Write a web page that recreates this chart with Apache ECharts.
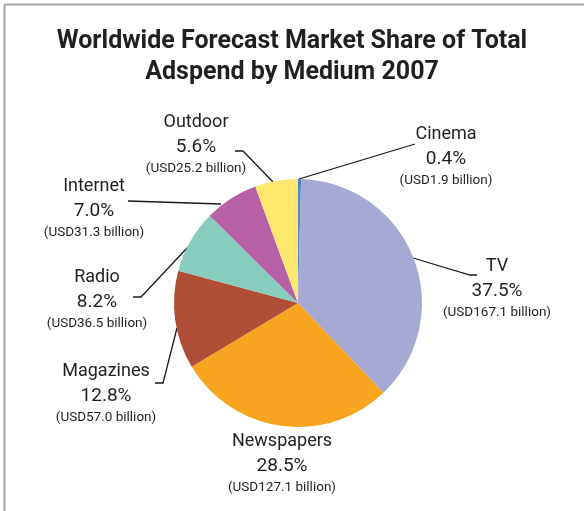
<!DOCTYPE html>
<html>
<head>
<meta charset="utf-8">
<script src="https://cdn.jsdelivr.net/npm/echarts@6/dist/echarts.min.js"></script>
<style>
  html, body { margin: 0; padding: 0; background: #fff; }
  #chart { width: 584px; height: 511px; }
</style>
</head>
<body>
<div id="chart"></div>
<script>
// slices, clockwise from 12 o'clock
const media = ["Cinema", "TV", "Newspapers", "Magazines", "Radio", "Internet", "Outdoor"];
const shares = [0.4, 37.5, 28.5, 12.8, 8.2, 7.0, 5.6];
const usdBillions = ["1.9", "167.1", "127.1", "57.0", "36.5", "31.3", "25.2"];
const colors = ["#4a8ccb", "#a7a9d5", "#f7a51f", "#b04e36", "#86cdbd", "#b760a6", "#fee76e"];

// label anchors (centre x, name line y) and leader lines, in px
const labelSpots = [
  { x: 446, y: 133, line: [[299, 179], [415, 144]] },
  { x: 497, y: 265, line: [[413, 258], [470, 275], [477, 275]] },
  { x: 282, y: 440, line: null },
  { x: 106, y: 370, line: [[177, 328], [163, 383], [155, 383]] },
  { x: 97, y: 276, line: [[188, 247], [141, 297], [133, 297]] },
  { x: 94, y: 185, line: [[221, 204], [128, 201]] },
  { x: 196, y: 121, line: [[273, 182], [243, 151], [235, 151]] }
];

const font = "Roboto, 'Noto Sans', sans-serif";

const chart = echarts.init(document.getElementById("chart"));

chart.setOption({
  animation: false,
  title: {
    text: "Worldwide Forecast Market Share of Total\nAdspend by Medium 2007",
    left: "center",
    top: 21,
    textStyle: {
      fontFamily: font,
      fontSize: 25,
      fontWeight: "bold",
      color: "#231f20",
      lineHeight: 31
    }
  },
  graphic: [
    { type: "line", shape: { x1: 4.5, y1: 4.5, x2: 4.5, y2: 511 }, style: { stroke: "#a3a3a3", lineWidth: 2 } },
    { type: "line", shape: { x1: 4.5, y1: 4.5, x2: 584, y2: 4.5 }, style: { stroke: "#a3a3a3", lineWidth: 2 } }
  ],
  series: [{
    type: "pie",
    center: [298, 303],
    radius: 124,
    startAngle: 90,
    clockwise: true,
    avoidLabelOverlap: false,
    itemStyle: { borderWidth: 0 },
    data: media.map((m, i) => ({ name: m, value: shares[i], itemStyle: { color: colors[i] } })),
    label: {
      show: true,
      position: "outside",
      fontFamily: font,
      color: "#231f20",
      formatter: p => `{n|${p.name}}\n{p|${shares[p.dataIndex].toFixed(1)}%}\n{u|(USD${usdBillions[p.dataIndex]} billion)}`,
      rich: {
        n: { fontFamily: font, fontSize: 18, lineHeight: 26, color: "#231f20", align: "center" },
        p: { fontFamily: font, fontSize: 19, lineHeight: 24, color: "#231f20", align: "center" },
        u: { fontFamily: font, fontSize: 13.5, lineHeight: 20, color: "#231f20", align: "center" }
      }
    },
    labelLine: {
      show: true,
      lineStyle: { color: "#1a1a1a", width: 1.3 }
    },
    labelLayout: params => {
      const s = labelSpots[params.dataIndex];
      const out = { x: s.x, y: s.y - 12, align: "center", verticalAlign: "top" };
      if (s.line) {
        const pts = s.line.slice();
        while (pts.length < 3) pts.push(pts[pts.length - 1]);
        out.labelLinePoints = pts;
      } else {
        out.labelLinePoints = [[s.x, s.y], [s.x, s.y], [s.x, s.y]];
      }
      return out;
    }
  }]
});
</script>
</body>
</html>
